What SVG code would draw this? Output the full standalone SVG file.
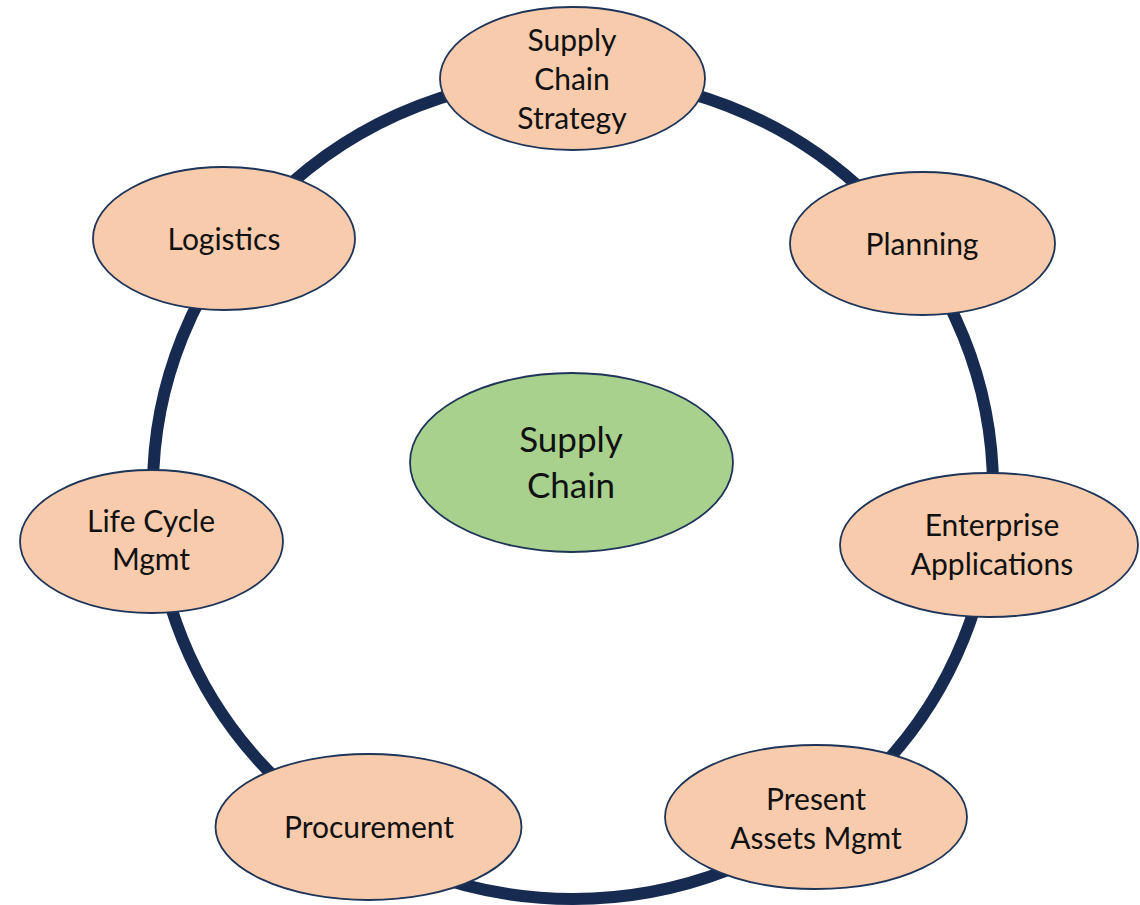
<svg xmlns="http://www.w3.org/2000/svg" width="1140" height="905" viewBox="0 0 1140 905">
<style>
.ring{fill:none;stroke:#172b51;stroke-width:12}
.node{fill:#f8cbad;stroke:#1f3459;stroke-width:1.8}
.hub{fill:#a9d18e;stroke:#1f3459;stroke-width:1.8}
text{font-family:Lato,"Open Sans","Liberation Sans",sans-serif;fill:#111;text-anchor:middle}
.t{font-size:30px}
.c{font-size:35px}
</style>
<rect width="1140" height="905" fill="#ffffff"/>
<g id="connectors">
<ellipse class="ring" cx="573" cy="488" rx="420" ry="411"/>
</g>
<g id="supply-chain-strategy">
<ellipse class="node" cx="572.5" cy="78.5" rx="132.5" ry="71.5"/>
<text class="t" x="572" y="51">Supply</text>
<text class="t" x="572" y="90">Chain</text>
<text class="t" x="572" y="129">Strategy</text>
</g>
<g id="logistics">
<ellipse class="node" cx="224" cy="238.5" rx="131" ry="71.5"/>
<text class="t" x="224" y="250">Logistics</text>
</g>
<g id="planning">
<ellipse class="node" cx="922.5" cy="243.5" rx="132.5" ry="71.5"/>
<text class="t" x="922" y="255">Planning</text>
</g>
<g id="enterprise-applications">
<ellipse class="node" cx="989" cy="545" rx="149" ry="72"/>
<text class="t" x="992" y="536">Enterprise</text>
<text class="t" x="992" y="575">Applications</text>
</g>
<g id="present-assets-mgmt">
<ellipse class="node" cx="816" cy="817" rx="151" ry="72"/>
<text class="t" x="816" y="810">Present</text>
<text class="t" x="816" y="849">Assets Mgmt</text>
</g>
<g id="procurement">
<ellipse class="node" cx="368.5" cy="827" rx="153" ry="73"/>
<text class="t" x="369" y="838">Procurement</text>
</g>
<g id="life-cycle-mgmt">
<ellipse class="node" cx="151.5" cy="541.5" rx="131.5" ry="71.5"/>
<text class="t" x="151" y="532">Life Cycle</text>
<text class="t" x="151" y="570">Mgmt</text>
</g>
<g id="supply-chain">
<ellipse class="hub" cx="571.5" cy="462.5" rx="161.5" ry="89.5"/>
<text class="c" x="571" y="452">Supply</text>
<text class="c" x="571" y="498">Chain</text>
</g>
</svg>
